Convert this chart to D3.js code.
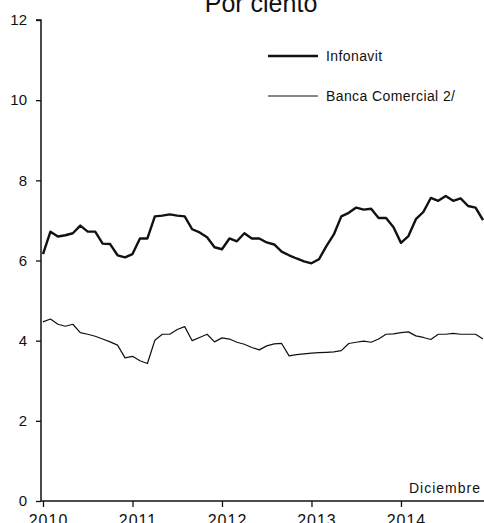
<!DOCTYPE html>
<html>
<head>
<meta charset="utf-8">
<script src="https://cdn.jsdelivr.net/npm/d3@7"></script>
<style>
  html, body { margin: 0; padding: 0; background: #fff; }
  svg { display: block; font-family: "Liberation Sans", Arial, sans-serif; }
</style>
</head>
<body>
<svg id="chart" width="484" height="523"></svg>
<script>
const title = "Por ciento";
const years = ["2010", "2011", "2012", "2013", "2014"];
const yTicks = [0, 2, 4, 6, 8, 10, 12];
const seriesNames = ["Infonavit", "Banca Comercial 2/"];
const note = "Diciembre";

// Monthly values, Jan 2010 - Dec 2014
const infonavit = [6.16, 6.72, 6.60, 6.63, 6.68, 6.87, 6.72, 6.72, 6.42, 6.41,
  6.13, 6.08, 6.16, 6.55, 6.55, 7.10, 7.12, 7.15, 7.12, 7.10,
  6.78, 6.70, 6.58, 6.33, 6.28, 6.55, 6.48, 6.68, 6.55, 6.55,
  6.45, 6.40, 6.22, 6.13, 6.05, 5.98, 5.93, 6.03, 6.36, 6.65,
  7.10, 7.19, 7.32, 7.27, 7.29, 7.06, 7.06, 6.83, 6.44, 6.61,
  7.03, 7.21, 7.56, 7.49, 7.61, 7.49, 7.55, 7.36, 7.32, 7.01];
const bancaComercial = [4.47, 4.54, 4.41, 4.36, 4.41, 4.20, 4.16, 4.11, 4.04, 3.97,
  3.89, 3.57, 3.61, 3.50, 3.43, 4.01, 4.16, 4.16, 4.28, 4.35,
  4.00, 4.08, 4.16, 3.97, 4.07, 4.04, 3.96, 3.91, 3.83, 3.77,
  3.87, 3.92, 3.93, 3.62, 3.65, 3.67, 3.69, 3.70, 3.71, 3.72,
  3.75, 3.93, 3.96, 3.99, 3.96, 4.04, 4.16, 4.17, 4.20, 4.22,
  4.12, 4.08, 4.03, 4.16, 4.16, 4.18, 4.16, 4.16, 4.16, 4.04];

const svg = d3.select("#chart");
const axisX = 41, axisTop = 20, axisBottom = 501;

const x = d3.scaleLinear().domain([0, infonavit.length - 1]).range([43, 483]);
const y = d3.scaleLinear().domain([0, 12]).range([axisBottom, axisTop]);

// Title (partially cut at top, as in reference)
svg.append("text").attr("x", 261).attr("y", 12)
  .attr("text-anchor", "middle").attr("font-size", 25).attr("fill", "#111")
  .text(title);

// Y axis
const yAxis = d3.axisLeft(y).tickValues(yTicks).tickSize(5).tickPadding(9).tickFormat(d3.format("d"));
const gy = svg.append("g").attr("transform", `translate(${axisX},0)`).call(yAxis);
gy.select(".domain").attr("stroke", "#111").attr("stroke-width", 1.5).attr("d", `M-5,${axisTop}H0V${axisBottom}`);
gy.selectAll(".tick line").attr("stroke", "#111").attr("stroke-width", 1.3);
gy.selectAll(".tick text").attr("font-size", 15).attr("fill", "#111")
  .attr("font-family", "Liberation Sans, Arial, sans-serif");

// X axis
const xAxis = d3.axisBottom(x).tickValues(years.map((d, i) => i * 12))
  .tickFormat((d, i) => years[i]).tickSize(6).tickPadding(8);
const gx = svg.append("g").attr("transform", `translate(0,${axisBottom})`).call(xAxis);
gx.select(".domain").attr("stroke", "#111").attr("stroke-width", 1.5).attr("d", `M${axisX},0H484`);
gx.selectAll(".tick line").attr("stroke", "#111").attr("stroke-width", 1.3);
gx.selectAll(".tick text").attr("font-size", 16).attr("fill", "#111").attr("dx", 5)
  .attr("letter-spacing", 1)
  .attr("font-family", "Liberation Sans, Arial, sans-serif");

// Lines
const line = d3.line().x((d, i) => x(i)).y(d => y(d));
svg.append("path").datum(infonavit).attr("d", line)
  .attr("fill", "none").attr("stroke", "#111").attr("stroke-width", 2.4).attr("stroke-linejoin", "round");
svg.append("path").datum(bancaComercial).attr("d", line)
  .attr("fill", "none").attr("stroke", "#111").attr("stroke-width", 1.2).attr("stroke-linejoin", "round");

// Legend
const legend = [
  { name: seriesNames[0], w: 2.4, yy: 56 },
  { name: seriesNames[1], w: 1.0, yy: 96 }
];
legend.forEach(l => {
  svg.append("line").attr("x1", 268).attr("x2", 318).attr("y1", l.yy).attr("y2", l.yy)
    .attr("stroke", "#111").attr("stroke-width", l.w);
  svg.append("text").attr("x", 326).attr("y", l.yy + 5).attr("font-size", 14)
    .attr("fill", "#111").attr("letter-spacing", 0.4).text(l.name);
});

// Note
svg.append("text").attr("x", 481).attr("y", 493).attr("text-anchor", "end")
  .attr("font-size", 14).attr("fill", "#111").attr("letter-spacing", 1).text(note);
</script>
</body>
</html>
